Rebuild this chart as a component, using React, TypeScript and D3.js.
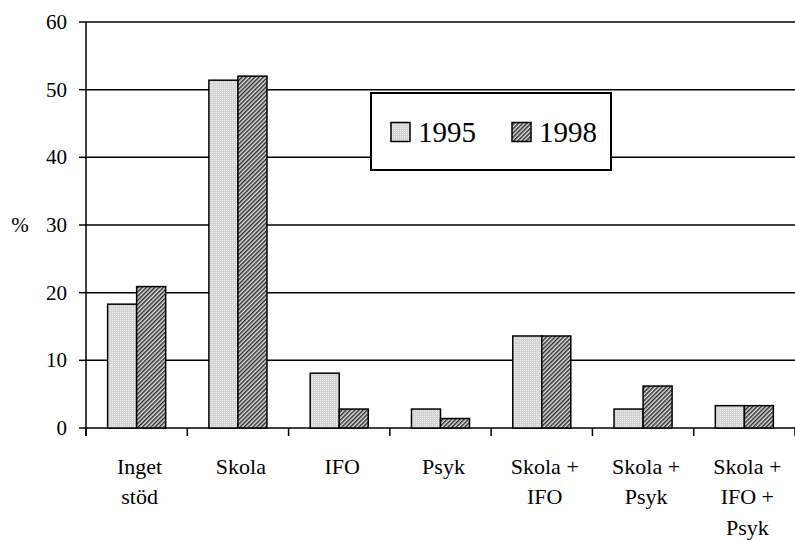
import React from "react";
import * as d3 from "d3";

const categories: string[][] = [
  ["Inget", "stöd"],
  ["Skola"],
  ["IFO"],
  ["Psyk"],
  ["Skola +", "IFO"],
  ["Skola +", "Psyk"],
  ["Skola +", "IFO +", "Psyk"],
];
const seriesNames = ["1995", "1998"];
const values1995 = [18.3, 51.4, 8.1, 2.8, 13.6, 2.8, 3.3];
const values1998 = [20.9, 52.0, 2.8, 1.4, 13.6, 6.2, 3.3];
const yTicks = [0, 10, 20, 30, 40, 50, 60];

const W = 795;
const H = 540;
const left = 86;
const right = 795;
const top = 22;
const bottom = 428;
const FONT = "Liberation Serif";

export default function App() {
  const x = d3
    .scaleBand<number>()
    .domain(categories.map((_, i) => i))
    .range([left, right])
    .paddingInner(0.427)
    .paddingOuter(0.2135);
  const xs = d3.scaleBand<number>().domain([0, 1]).range([0, x.bandwidth()]);
  const y = d3.scaleLinear().domain([0, 60]).range([bottom, top]);
  const step = (right - left) / categories.length;
  const series = [values1995, values1998];
  const fills = ["url(#p1995)", "url(#p1998)"];

  return (
    <svg
      width={W}
      height={H}
      style={{ position: "absolute", left: 0, top: 0, background: "#fff" }}
    >
      <style>{`text, tspan { font-family: "Liberation Serif", "Times New Roman", serif; }`}</style>
      <defs>
        <pattern id="p1995" width="2" height="2" patternUnits="userSpaceOnUse">
          <rect width="2" height="2" fill="#d4d4d4" />
          <rect width="1" height="1" fill="#ececec" />
        </pattern>
        <pattern
          id="p1998"
          width="3"
          height="3"
          patternUnits="userSpaceOnUse"
          patternTransform="rotate(45)"
        >
          <rect width="3" height="3" fill="#e0e0e0" />
          <rect width="1.5" height="3" fill="#2e2e2e" />
        </pattern>
      </defs>

      {yTicks.map((t) => (
        <line
          key={"g" + t}
          x1={left}
          x2={right}
          y1={y(t)}
          y2={y(t)}
          stroke="#000"
          strokeWidth={1.5}
        />
      ))}

      {categories.map((_, i) =>
        series.map((vals, s) => (
          <rect
            key={`b${i}-${s}`}
            x={(x(i) as number) + (xs(s) as number)}
            y={y(vals[i])}
            width={xs.bandwidth()}
            height={y(0) - y(vals[i])}
            fill={fills[s]}
            stroke="#000"
            strokeWidth={1.5}
          />
        ))
      )}

      <line x1={left} x2={left} y1={top} y2={bottom + 8} stroke="#000" strokeWidth={1.5} />
      {yTicks.map((t) => (
        <g key={"yt" + t}>
          <line x1={left - 7} x2={left} y1={y(t)} y2={y(t)} stroke="#000" strokeWidth={1.5} />
          <text x={left - 19} y={y(t) + 7} textAnchor="end" fontSize={21} fontFamily={FONT}>
            {t}
          </text>
        </g>
      ))}
      <text x={20} y={y(30) + 7} textAnchor="middle" fontSize={21} fontFamily={FONT}>
        %
      </text>

      {d3.range(categories.length + 1).map((i) => (
        <line
          key={"xt" + i}
          x1={left + i * step}
          x2={left + i * step}
          y1={bottom}
          y2={bottom + 8}
          stroke="#000"
          strokeWidth={1.5}
        />
      ))}
      {categories.map((lines, i) => {
        const cx = (x(i) as number) + x.bandwidth() / 2 + 3;
        return (
          <text key={"xl" + i} x={cx} textAnchor="middle" fontSize={22} fontFamily={FONT}>
            {lines.map((l, k) => (
              <tspan key={k} x={cx} y={473.5 + k * 30.5}>
                {l}
              </tspan>
            ))}
          </text>
        );
      })}

      <rect x={371} y={93} width={240} height={77} fill="#fff" stroke="#000" strokeWidth={2} />
      {seriesNames.map((n, s) => (
        <g key={"lg" + s}>
          <rect
            x={391 + s * 121}
            y={122.5}
            width={19}
            height={19}
            fill={fills[s]}
            stroke="#000"
            strokeWidth={1.5}
          />
          <text x={418 + s * 121} y={142} fontSize={29} fontFamily={FONT}>
            {n}
          </text>
        </g>
      ))}
    </svg>
  );
}
